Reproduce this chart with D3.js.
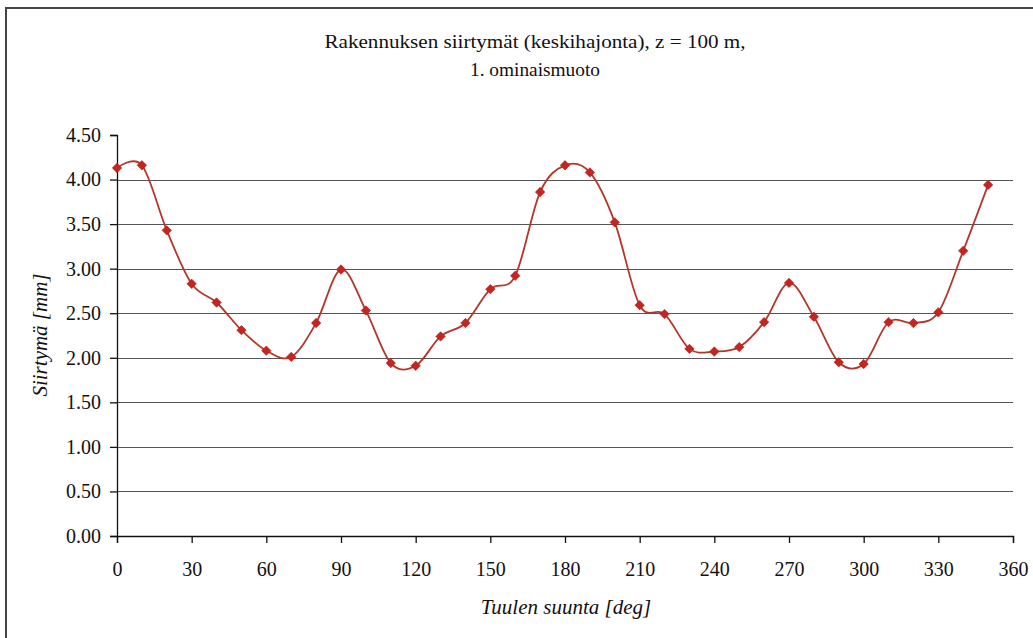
<!DOCTYPE html>
<html>
<head>
<meta charset="utf-8">
<script src="https://cdn.jsdelivr.net/npm/d3@7"></script>
<style>
  html, body { margin: 0; padding: 0; background: #fff; }
  svg { display: block; }
  svg text { font-family: "Liberation Serif", "Times New Roman", Times, serif; }
</style>
</head>
<body>
<svg id="chart" width="1033" height="638"></svg>
<script>
// Wind direction (deg) and building displacement std. dev. (mm)
const directions = [0, 10, 20, 30, 40, 50, 60, 70, 80, 90, 100, 110, 120, 130, 140, 150, 160, 170,
                    180, 190, 200, 210, 220, 230, 240, 250, 260, 270, 280, 290, 300, 310, 320, 330, 340, 350];
const displacement = [4.13, 4.16, 3.43, 2.83, 2.62, 2.31, 2.08, 2.01, 2.39, 2.99, 2.53, 1.94, 1.91, 2.24,
                      2.39, 2.77, 2.92, 3.86, 4.16, 4.08, 3.52, 2.59, 2.49, 2.10, 2.07, 2.12, 2.40, 2.84,
                      2.46, 1.95, 1.93, 2.40, 2.39, 2.51, 3.20, 3.94];
const xTicks = [0, 30, 60, 90, 120, 150, 180, 210, 240, 270, 300, 330, 360];
const yTicks = [0, 0.5, 1, 1.5, 2, 2.5, 3, 3.5, 4, 4.5];
const titleLines = ["Rakennuksen siirtymät (keskihajonta), z = 100 m,", "1. ominaismuoto"];
const xTitle = "Tuulen suunta [deg]";
const yTitle = "Siirtymä [mm]";

const svg = d3.select("#chart");
const plot = { left: 117, right: 1013, top: 135, bottom: 536 };

const x = d3.scaleLinear().domain([0, 360]).range([plot.left, plot.right]);
const y = d3.scaleLinear().domain([0, 4.5]).range([plot.bottom, plot.top]);

// outer chart frame
svg.append("rect")
  .attr("x", 6).attr("y", 8).attr("width", 1060).attr("height", 660)
  .attr("fill", "none").attr("stroke", "#444").attr("stroke-width", 2);

// horizontal gridlines
svg.append("g")
  .selectAll("line")
  .data(yTicks.filter(d => d > 0 && d < 4.5))
  .join("line")
  .attr("x1", plot.left).attr("x2", plot.right)
  .attr("y1", d => Math.round(y(d)) + 0.5).attr("y2", d => Math.round(y(d)) + 0.5)
  .attr("stroke", "#555").attr("stroke-width", 1.2);

// y axis
const yAxis = svg.append("g")
  .attr("transform", `translate(${plot.left},0)`)
  .call(d3.axisLeft(y).tickValues(yTicks).tickFormat(d3.format(".2f")).tickSize(7).tickPadding(9));
yAxis.attr("font-size", 20);
yAxis.select(".domain").attr("stroke", "#111").attr("stroke-width", 1.3);
yAxis.selectAll(".tick line").attr("stroke", "#111").attr("stroke-width", 1.3);
yAxis.selectAll("text").attr("fill", "#111");

// x axis
const xAxis = svg.append("g")
  .attr("transform", `translate(0,${plot.bottom})`)
  .call(d3.axisBottom(x).tickValues(xTicks).tickSize(7).tickPadding(19));
xAxis.attr("font-size", 20);
xAxis.select(".domain").attr("stroke", "#111").attr("stroke-width", 1.3);
xAxis.selectAll(".tick line").attr("stroke", "#111").attr("stroke-width", 1.3);
xAxis.selectAll("text").attr("fill", "#111");

// smoothed series line
const pts = directions.map((d, i) => [d, displacement[i]]);
const line = d3.line()
  .x(d => x(d[0])).y(d => y(d[1]))
  .curve(d3.curveCatmullRom.alpha(0));
svg.append("path")
  .datum(pts)
  .attr("d", line)
  .attr("fill", "none")
  .attr("stroke", "#b3362a")
  .attr("stroke-width", 1.8);

// diamond markers (square turned 45°)
const marker = d3.symbol().type(d3.symbolSquare).size(44);
svg.append("g")
  .selectAll("path")
  .data(pts)
  .join("path")
  .attr("transform", d => `translate(${x(d[0])},${y(d[1])}) rotate(45)`)
  .attr("d", marker)
  .attr("fill", "#c8231e")
  .attr("stroke", "#a81e18")
  .attr("stroke-width", 0.6);

// chart title
const title = svg.append("g").attr("fill", "#111");
title.append("text")
  .attr("x", 535).attr("y", 48)
  .attr("text-anchor", "middle").attr("font-size", 18)
  .attr("textLength", 421).attr("lengthAdjust", "spacingAndGlyphs")
  .text(titleLines[0]);
title.append("text")
  .attr("x", 535).attr("y", 76)
  .attr("text-anchor", "middle").attr("font-size", 18)
  .attr("textLength", 130).attr("lengthAdjust", "spacingAndGlyphs")
  .text(titleLines[1]);

// axis titles
const axisTitles = svg.append("g").attr("fill", "#111")
  .attr("font-size", 21).attr("font-style", "italic").attr("text-anchor", "middle");
axisTitles.append("text")
  .attr("x", 566).attr("y", 614)
  .text(xTitle);
axisTitles.append("text")
  .attr("transform", "translate(47,335) rotate(-90)")
  .text(yTitle);
</script>
</body>
</html>
